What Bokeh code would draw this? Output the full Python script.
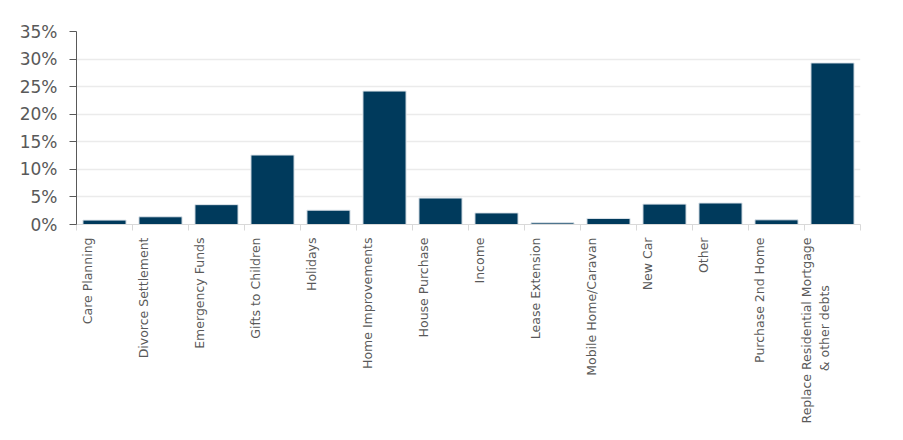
from bokeh.plotting import figure
from bokeh.models import FixedTicker, PrintfTickFormatter, Range1d, ColumnDataSource
from bokeh.embed import file_html
from bokeh.resources import INLINE
import math

categories = ["Care Planning", "Divorce Settlement", "Emergency Funds", "Gifts to Children",
              "Holidays", "Home Improvements", "House Purchase", "Income", "Lease Extension",
              "Mobile Home/Caravan", "New Car", "Other", "Purchase 2nd Home",
              "Replace Residential Mortgage\n& other debts" + "\u00a0" * 12]
values = [0.8, 1.4, 3.6, 12.6, 2.6, 24.2, 4.8, 2.1, 0.3, 1.1, 3.7, 3.9, 0.85, 29.3]
y_ticks = [0, 5, 10, 15, 20, 25, 30, 35]

n = len(categories)
centers = [i + 0.5 for i in range(n)]
label_pos = [i + 0.2 for i in range(n)]
src = ColumnDataSource(dict(x=centers, top=values))

p = figure(width=887, height=428, output_backend="svg", toolbar_location=None,
           x_range=Range1d(0, n), y_range=Range1d(0, 35),
           min_border_left=76, min_border_right=27, min_border_top=31, min_border_bottom=204)
p.outline_line_color = None
p.background_fill_color = "white"

p.vbar(x="x", top="top", width=0.77, source=src, fill_color="#003A5C",
       line_color="#dfe6ec", line_width=1)

# x axis
xa = p.xaxis[0]
xa.ticker = FixedTicker(ticks=label_pos, minor_ticks=list(range(n + 1)))
xa.major_label_overrides = {c: lab for c, lab in zip(label_pos, categories)}
xa.major_label_orientation = math.pi / 2
xa.major_tick_line_color = None
xa.minor_tick_line_color = "#d9d9d9"
xa.minor_tick_out = 6
xa.minor_tick_in = 0
xa.axis_line_color = "#d9d9d9"
xa.major_label_text_font = "DejaVu Sans"
xa.major_label_text_font_size = "12.5px"
xa.major_label_text_color = "#595959"
xa.major_label_standoff = 7

# y axis
ya = p.yaxis[0]
ya.ticker = FixedTicker(ticks=y_ticks)
ya.formatter = PrintfTickFormatter(format="%d%%")
ya.minor_tick_line_color = None
ya.major_tick_out = 7
ya.major_tick_in = 0
ya.axis_line_color = "#595959"
ya.major_tick_line_color = "#595959"
ya.major_label_text_font = "DejaVu Sans"
ya.major_label_text_font_size = "17px"
ya.major_label_text_color = "#595959"
ya.major_label_standoff = 12

p.xgrid.grid_line_color = None
p.ygrid.grid_line_color = "#ebebeb"
p.ygrid.grid_line_width = 1.5
p.ygrid.ticker = FixedTicker(ticks=y_ticks)

open("out.html", "w").write(file_html(p, INLINE))
